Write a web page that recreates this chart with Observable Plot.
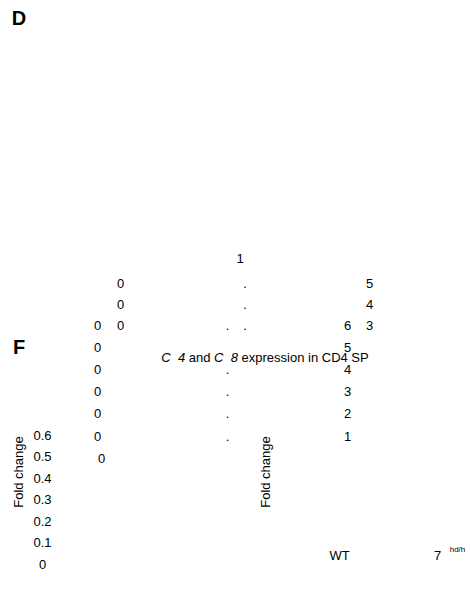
<!DOCTYPE html>
<html>
<head>
<meta charset="utf-8">
<script src="https://cdn.jsdelivr.net/npm/d3@7"></script>
<script src="https://cdn.jsdelivr.net/npm/@observablehq/plot@0.6"></script>
<style>
  html, body { margin: 0; padding: 0; background: #fff; }
  #root { position: relative; width: 470px; height: 589px; overflow: hidden;
          font-family: "Liberation Sans", Arial, Helvetica, sans-serif; color: #000; }
  #root svg { position: absolute; left: 0; top: 0; background: transparent; overflow: visible; }
  .ann { position: absolute; white-space: pre; transform: translate(-50%, -50%); line-height: 1; }
</style>
</head>
<body>
<div id="root"></div>
<script>
// ---- data: tick labels of the (broken) figure axes ----
const upperAxisTicks = [0.5, 0.4, 0.3];                 // spread-character axis, upper
const middleAxisTicks = [0.6, 0.5, 0.4, 0.3, 0.2, 0.1];  // spread-character axis, middle
const middleAxisHiddenDot = [0.5];                       // its decimal point is not shown
const middleAxisZero = [0];
const lowerAxisTicks = [0.6, 0.5, 0.4, 0.3, 0.2, 0.1, 0];
const groups = ["WT", "7"];
const titleParts = [
  {t: "C", i: true}, {t: "  ", i: false}, {t: "4", i: true}, {t: " and ", i: false},
  {t: "C", i: true}, {t: "  ", i: false}, {t: "8", i: true}, {t: " expression in CD4 SP", i: false}
];

const FS = 13;
const root = document.getElementById("root");
const fontStyle = {fontFamily: "'Liberation Sans', Arial, Helvetica, sans-serif", fontSize: FS + "px", color: "#000", background: "transparent", overflow: "visible"};

function chars(values) {
  const out = [];
  values.forEach(v => {
    const s = v.toFixed(1);
    [s[0], s[1], s[2]].forEach((c, k) => out.push({v, k, c}));
  });
  return out;
}

// upper spread axis
root.appendChild(Plot.plot({
  width: 470, height: 589, margin: 0, style: fontStyle,
  x: {domain: [0, 2], range: [120, 369], axis: null},
  y: {domain: [0.3, 0.5], range: [325, 283], axis: null},
  marks: [Plot.text(chars(upperAxisTicks), {x: "k", y: "v", text: "c", fill: "#000"})]
}));

// middle spread axis
const midChars = chars(middleAxisTicks);
root.appendChild(Plot.plot({
  width: 470, height: 589, margin: 0, style: fontStyle,
  x: {domain: [0, 2], range: [97, 347], axis: null},
  y: {domain: [0, 0.6], range: [458, 325], axis: null},
  marks: [
    Plot.text(midChars.filter(d => d.k !== 1), {x: "k", y: "v", text: "c", fill: "#000"}),
    Plot.text(midChars.filter(d => d.k === 1 && !middleAxisHiddenDot.includes(d.v)),
      {x: "k", y: "v", text: "c", fill: "#000", dx: 5}),
    Plot.text(middleAxisZero, {x: () => 0, y: d => d, text: d => String(d), dx: 4, fill: "#000"})
  ]
}));

// lower-left axis
root.appendChild(Plot.plot({
  width: 470, height: 589, margin: 0, style: fontStyle,
  x: {domain: [0, 1], range: [42, 43], axis: null},
  y: {domain: [0, 0.6], range: [564, 435], axis: null},
  marks: [Plot.text(lowerAxisTicks, {x: () => 0, y: d => d, text: d => String(d), fill: "#000"})]
}));

// group labels on the lower-right x axis
root.appendChild(Plot.plot({
  width: 470, height: 589, margin: 0, style: fontStyle,
  x: {type: "point", domain: groups, range: [339, 437], padding: 0, axis: null},
  y: {domain: [0, 1], range: [555, 554], axis: null},
  marks: [
    Plot.text(groups, {x: d => d, y: () => 0, text: d => d, fill: "#000",
      fontStyle: d => d === "WT" ? "normal" : "italic"}),
    Plot.text(groups.filter(d => d !== "WT"), {x: d => d, y: () => 0, text: () => "hd/h",
      fontSize: 8, dx: 20, dy: -6, fill: "#000"})
  ]
}));

// annotations (panel letters, titles, axis labels)
function ann(html, x, y, css) {
  const d = document.createElement("div");
  d.className = "ann";
  d.innerHTML = html;
  d.style.left = x + "px";
  d.style.top = y + "px";
  Object.assign(d.style, css || {});
  root.appendChild(d);
}
ann("D", 19, 18, {fontWeight: "bold", fontSize: "20px"});
ann("F", 19, 347, {fontWeight: "bold", fontSize: "20px"});
ann("1", 240, 258, {fontSize: FS + "px"});
ann(titleParts.map(p => p.i ? `<i>${p.t}</i>` : p.t).join(""), 265, 357, {fontSize: FS + "px"});
ann("Fold change", 18, 472, {fontSize: FS + "px", transform: "translate(-50%, -50%) rotate(-90deg)"});
ann("Fold change", 265, 472, {fontSize: FS + "px", transform: "translate(-50%, -50%) rotate(-90deg)"});
</script>
</body>
</html>
